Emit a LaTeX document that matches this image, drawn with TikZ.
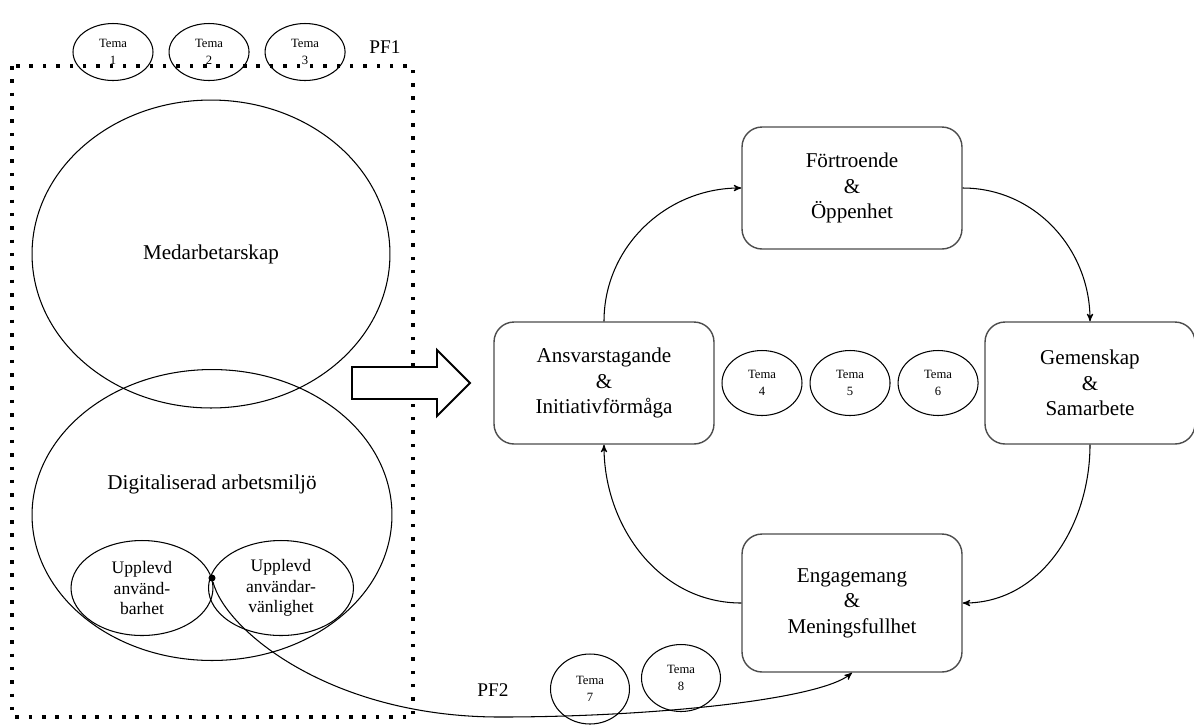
\documentclass[tikz,border=0pt]{standalone}
\usepackage{fontspec}
\setmainfont{Liberation Serif}
\usetikzlibrary{positioning}
\usetikzlibrary{arrows}
\usetikzlibrary{shapes.geometric}
\tikzset{x=0.02cm, y=0.02cm, % one unit = one pixel of the layout
tema/.style={ % Small theme ellipses
ellipse, draw, line width=0.6pt,
minimum width=1.6cm, minimum height=1.3cm,
inner sep=0pt, align=center,
font=\fontsize{7.2}{9.4}\selectfont},
area/.style={ % Large concept ellipses
ellipse, draw, line width=0.6pt, inner sep=0pt},
factor/.style={ % Rounded boxes on the right
rectangle, rounded corners=0.4cm,
draw=black!70, line width=0.8pt,
minimum width=4.4cm, minimum height=2.44cm,
align=center, font=\fontsize{12}{14.5}\selectfont},
flow/.style={ % Arrows between the boxes
->, >=stealth', line width=0.6pt},
pf/.style={font=\fontsize{11}{13}\selectfont}}

\begin{document}
\begin{tikzpicture}
\useasboundingbox (0,0) rectangle (1194,-725);

% left part
\node[area, minimum width=7.16cm, minimum height=6.16cm, font=\fontsize{12}{14.5}\selectfont] (medarb) at (211,-254) {Medarbetarskap};
\node[area, minimum width=7.2cm, minimum height=5.82cm] (digital) at (212,-515) {};
\node[font=\fontsize{12}{14.5}\selectfont] (digitaltext) at (212,-484) {Digitaliserad arbetsmiljö};
\node[area, minimum width=2.84cm, minimum height=1.9cm, align=center, font=\fontsize{10}{11.8}\selectfont] (anvbar) at (142,-588) {Upplevd\\använd-\\barhet};
\node[area, minimum width=2.9cm, minimum height=1.9cm, align=center, font=\fontsize{10}{11.8}\selectfont] (anvvan) at (281,-588) {Upplevd\\användar-\\vänlighet};
\node[circle, fill, inner sep=0pt, minimum size=4pt] (dot) at (212,-578) {};

\node[tema, minimum height=1.14cm] (t1) at (113,-52) {Tema\\1};
\node[tema, minimum height=1.14cm, right=0.3cm of t1] (t2) {Tema\\2};
\node[tema, minimum height=1.14cm, right=0.3cm of t2] (t3) {Tema\\3};
\node[pf] (pf1) at (385,-47) {PF1};

\draw[line width=2pt, dash pattern=on 2pt off 5.6pt] (12,-66) rectangle (413,-717);

% big arrow
\draw[line width=1.1pt, fill=white, line join=miter] (352,-367) -- (437,-367) -- (437,-350) -- (470,-383) -- (437,-416) -- (437,-399) -- (352,-399) -- cycle;

% right part
\node[factor] (ansvar) at (604,-383) {Ansvarstagande\\\&\\Initiativförmåga};
\node[factor] (fortro) at (852,-188) {Förtroende\\\&\\Öppenhet};
\node[factor, minimum width=4.2cm] (gemen) at (1090,-383) {Gemenskap\\\&\\Samarbete};
\node[factor, minimum height=2.76cm] (engag) at (852,-603) {Engagemang\\\&\\Meningsfullhet};

\node[tema] (t4) at (762,-383) {Tema\\4};
\node[tema, right=0.14cm of t4] (t5) {Tema\\5};
\node[tema, right=0.14cm of t5] (t6) {Tema\\6};

\draw[flow] (ansvar.north) to[out=90, in=180] (fortro.west);
\draw[flow] (fortro.east) to[out=0, in=90] (gemen.north);
\draw[flow] (gemen.south) to[out=-90, in=0] (engag.east);
\draw[flow] (engag.west) to[out=180, in=-90] (ansvar.south);

% bottom
\node[tema, minimum width=1.58cm, minimum height=1.4cm] (t7) at (590,-689) {Tema\\7};
\node[tema, minimum width=1.58cm, minimum height=1.34cm] (t8) at (681,-678) {Tema\\8};
\node[pf] (pf2) at (493,-690) {PF2};

\draw[flow] (dot) .. controls (225,-630) and (330,-717) .. (500,-717) .. controls (650,-717) and (820,-700) .. (engag.south);
\end{tikzpicture}
\end{document}
